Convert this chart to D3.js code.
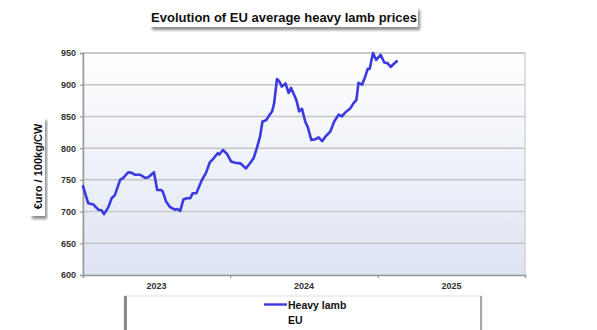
<!DOCTYPE html>
<html><head><meta charset="utf-8">
<script src="https://cdn.jsdelivr.net/npm/d3@7/dist/d3.min.js"></script>
<style>
body{margin:0;background:#fff;}
svg{display:block;font-family:"Liberation Sans",Arial,sans-serif;}
</style></head>
<body><svg id="c" width="597" height="330"></svg>
<script>
const title = "Evolution of EU average heavy lamb prices";
const yTitle = "€uro / 100kg/CW";
const seriesName = ["Heavy lamb", "EU"];
const yTicks = [600, 650, 700, 750, 800, 850, 900, 950];
const yearLabels = ["2023", "2024", "2025"];
const yearStarts = ["2023-01-01", "2024-01-01", "2025-01-01", "2026-01-01"];
const dates = [
 "2023-01-01","2023-01-14","2023-01-27","2023-02-08","2023-02-16","2023-02-22","2023-03-05","2023-03-13","2023-03-21",
 "2023-04-03","2023-04-11","2023-04-23","2023-05-02","2023-05-10","2023-05-23","2023-06-04","2023-06-12","2023-06-26",
 "2023-07-04","2023-07-14","2023-07-18","2023-07-26","2023-08-05","2023-08-17","2023-08-23","2023-08-30","2023-09-07",
 "2023-09-15","2023-09-24","2023-09-30","2023-10-09","2023-10-23","2023-11-02","2023-11-11","2023-11-21","2023-12-01",
 "2023-12-05","2023-12-14","2023-12-24",
 "2024-01-03","2024-01-13","2024-01-26","2024-01-30","2024-02-09","2024-02-20","2024-02-28","2024-03-07","2024-03-15",
 "2024-03-21","2024-03-30","2024-04-05","2024-04-14","2024-04-19","2024-04-26","2024-05-02","2024-05-08","2024-05-17",
 "2024-05-25","2024-05-31","2024-06-06","2024-06-13","2024-06-20","2024-06-27","2024-07-05","2024-07-12","2024-07-20",
 "2024-07-30","2024-08-07","2024-08-16","2024-08-24","2024-09-05","2024-09-15","2024-09-26","2024-10-04","2024-10-12",
 "2024-10-25","2024-11-02","2024-11-09","2024-11-14","2024-11-23","2024-12-01","2024-12-07","2024-12-12","2024-12-20",
 "2024-12-28",
 "2025-01-08","2025-01-17","2025-01-25","2025-02-02","2025-02-10","2025-02-17"
];
const prices = [
 740,713,711,703,702,696,707,721,726,
 750,753,762,761,758,758,753,754,762,
 734,734,731,716,707,703,704,701,719,
 721,721,729,729,750,761,777,784,792,
 790,797,791,
 779,777,776,774,768,777,784,800,818,
 842,844,850,858,871,909,905,897,902,
 887,895,886,876,858,862,842,832,813,
 814,817,811,818,826,842,853,850,856,
 863,871,876,903,900,913,925,925,950,
 939,
 947,935,934,928,933,937
];

const svg = d3.select("#c");
const parse = d3.timeParse("%Y-%m-%d");
const m = {l:83, r:525, t:53, b:275};
const x = d3.scaleTime().domain([parse(yearStarts[0]), parse(yearStarts[3])]).range([m.l, m.r]);
const y = d3.scaleLinear().domain([600, 950]).range([m.b, m.t]);

const defs = svg.append("defs");
const g = defs.append("linearGradient").attr("id","bg").attr("x1",0).attr("y1",0).attr("x2",0).attr("y2",1);
g.append("stop").attr("offset","0%").attr("stop-color","#ffffff");
g.append("stop").attr("offset","100%").attr("stop-color","#dde4f2");
const sh = defs.append("filter").attr("id","sh").attr("x","-10%").attr("y","-30%").attr("width","130%").attr("height","190%");
sh.append("feDropShadow").attr("dx",2).attr("dy",3).attr("stdDeviation",1.5).attr("flood-color","#000").attr("flood-opacity",0.45);

// plot background
svg.append("rect").attr("x",m.l).attr("y",m.t).attr("width",m.r-m.l).attr("height",m.b-m.t)
  .attr("fill","url(#bg)").attr("stroke","#d4d4d4").attr("stroke-width",1.5);

// gridlines
svg.append("g").selectAll("line").data(yTicks.slice(1)).join("line")
  .attr("x1",m.l).attr("x2",m.r).attr("y1",d=>y(d)).attr("y2",d=>y(d))
  .attr("stroke","#c6c6c6").attr("stroke-width",1.5);

// y axis
const ya = svg.append("g").attr("transform",`translate(${m.l},0)`)
  .call(d3.axisLeft(y).tickValues(yTicks).tickSize(3).tickPadding(4));
ya.select(".domain").attr("stroke","#9a9a9a").attr("stroke-width",1.5);
ya.selectAll(".tick line").attr("stroke","#9a9a9a").attr("stroke-width",1.2);
ya.selectAll("text").attr("font-size",9).attr("font-weight","bold").attr("fill","#333")
  .attr("font-family","'Liberation Sans',Arial,sans-serif");

// x axis
const xa = svg.append("g").attr("transform",`translate(0,${m.b})`)
  .call(d3.axisBottom(x).tickValues(yearStarts.map(parse)).tickSize(3).tickFormat(""));
xa.select(".domain").attr("stroke","#9a9a9a").attr("stroke-width",1.5);
xa.selectAll(".tick line").attr("stroke","#9a9a9a").attr("stroke-width",1.2);
svg.append("g").selectAll("text").data(yearLabels).join("text")
  .attr("x",(d,i)=> (x(parse(yearStarts[i])) + x(parse(yearStarts[i+1])))/2)
  .attr("y",289).attr("text-anchor","middle")
  .attr("font-size",9).attr("font-weight","bold").attr("fill","#333").text(d=>d);

// line
const data = dates.map((d,i)=>({d:parse(d), v:prices[i]}));
svg.append("path").datum(data)
  .attr("d", d3.line().x(d=>x(d.d)).y(d=>y(d.v)))
  .attr("fill","none").attr("stroke","#3a3ae0").attr("stroke-width",2.6)
  .attr("stroke-linejoin","round").attr("stroke-linecap","round");

// title
svg.append("rect").attr("x",150).attr("y",7).attr("width",268).attr("height",20)
  .attr("fill","#fff").attr("filter","url(#sh)");
svg.append("text").attr("x",284).attr("y",22).attr("text-anchor","middle")
  .attr("font-size",13).attr("font-weight","bold").attr("fill","#111").text(title);

// y title
svg.append("rect").attr("x",30).attr("y",117).attr("width",15).attr("height",99)
  .attr("fill","#fff").attr("filter","url(#sh)");
svg.append("text").attr("transform","translate(41.5,166.5) rotate(-90)").attr("text-anchor","middle")
  .attr("font-size",11).attr("font-weight","bold").attr("fill","#111").text(yTitle);

// legend
svg.append("rect").attr("x",124).attr("y",296).attr("width",358).attr("height",40)
  .attr("fill","#fff").attr("stroke","#e0e0e0").attr("stroke-width",1);
svg.append("rect").attr("x",124).attr("y",296).attr("width",3).attr("height",40).attr("fill","#8a8a8a");
svg.append("rect").attr("x",480).attr("y",296).attr("width",2).attr("height",40).attr("fill","#a8a8a8");
svg.append("line").attr("x1",264).attr("x2",287).attr("y1",304.5).attr("y2",304.5)
  .attr("stroke","#3a3ae0").attr("stroke-width",2.4);
svg.append("g").selectAll("text").data(seriesName).join("text")
  .attr("x",288).attr("y",(d,i)=>308.5+i*15)
  .attr("font-size",10.5).attr("font-weight","bold").attr("fill","#111").text(d=>d);
</script></body></html>
